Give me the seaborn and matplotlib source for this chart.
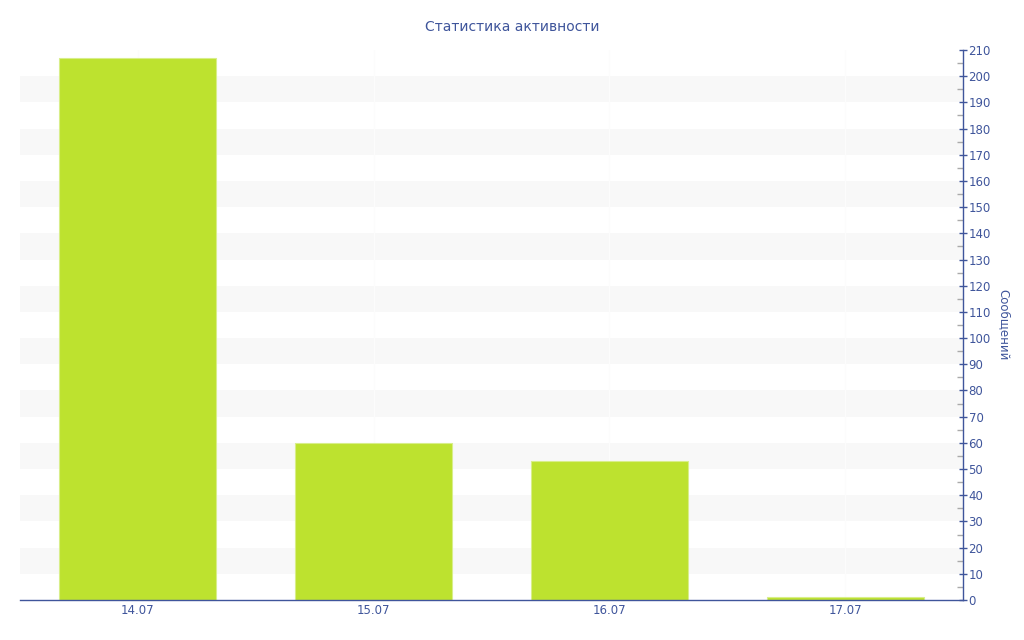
import pandas as pd
import seaborn as sns
import matplotlib.pyplot as plt

# Data
days = ["14.07", "15.07", "16.07", "17.07"]
messages = [207, 60, 53, 1]

df = pd.DataFrame({"day": days, "messages": messages})

text_blue = "#3f559b"
bar_green = "#bde22f"

sns.set_style("white")
plt.rcParams['font.family'] = ['DejaVu Sans']

fig = plt.figure(figsize=(10.24, 6.4), dpi=100)
ax = fig.add_axes([20 / 1024, 40 / 640, 943 / 1024, 550 / 640])

# alternating light bands
for lo in range(10, 210, 20):
    ax.axhspan(lo, lo + 10, color="#f8f8f8", zorder=0, lw=0)

sns.barplot(data=df, x="day", y="messages", color=bar_green, width=0.667,
            edgecolor="#d8ee8a", linewidth=0.8, saturation=1, ax=ax, zorder=2)

ax.set_xlim(-0.5, 3.5)
ax.set_ylim(0, 210)

# barely visible vertical gridlines at categories
for i in range(len(days)):
    ax.axvline(i, color="#fcfcfc", lw=1, zorder=1)

ax.yaxis.tick_right()
ax.yaxis.set_label_position("right")
ax.set_yticks(range(0, 211, 10))
ax.set_yticks(range(5, 211, 10), minor=True)
ax.tick_params(axis="y", which="major", direction="inout", length=6, width=1,
               color=text_blue, labelcolor=text_blue, labelsize=8.5, pad=1)
ax.tick_params(axis="y", which="minor", direction="in", length=4, width=1,
               color="#aaaaaa")
ax.tick_params(axis="x", direction="in", length=4, width=1, color="#555555",
               labelcolor=text_blue, labelsize=8.5, pad=3)

for side in ["top", "left"]:
    ax.spines[side].set_visible(False)
ax.spines["right"].set_color(text_blue)
ax.spines["bottom"].set_color(text_blue)
ax.spines["right"].set_linewidth(1)
ax.spines["bottom"].set_linewidth(1)

ax.set_xlabel("")
ax.set_ylabel("Сообщений", rotation=270, color=text_blue, fontsize=8.5, labelpad=14)
# title is centred on the whole figure, not the plot area
ax.set_title("Статистика активности", color=text_blue, fontsize=10, pad=14,
             x=(512 - 20) / 943)

fig.savefig("out.png", dpi=100)
